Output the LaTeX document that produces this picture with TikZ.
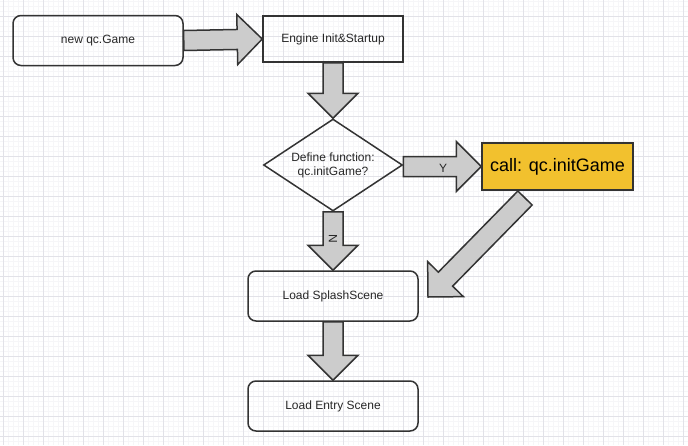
\documentclass[tikz,border=0pt]{standalone}
\usepackage{fontspec}
\setmainfont{Liberation Sans}
\usetikzlibrary{shapes.geometric}
\usetikzlibrary{calc}
\definecolor{lineclr}{RGB}{51,51,51}
\definecolor{arrowfill}{RGB}{204,204,204}
\definecolor{callfill}{RGB}{242,193,46}
\definecolor{gridclr}{RGB}{226,226,232}
\definecolor{minorclr}{RGB}{246,246,248}
\tikzset{
    gridline/.style={draw=gridclr, line width=0.8pt},
    minorline/.style={draw=minorclr, line width=0.6pt},
    stepbox/.style={draw=lineclr, line width=1.5pt, minimum width=170pt, minimum height=50pt,
        font=\fontsize{12}{14}\selectfont, text=black!85},
    roundbox/.style={stepbox, rounded corners=8pt},
    squarebox/.style={stepbox},
    decision/.style={diamond, draw=lineclr, line width=1.5pt, aspect=1.5, inner sep=0pt,
        minimum width=139pt, minimum height=92pt, align=center,
        font=\fontsize{12}{14}\selectfont, text=black!85},
    callbox/.style={draw=lineclr, line width=1.5pt, fill=callfill, minimum width=151pt,
        minimum height=47pt, font=\fontsize{18}{20}\selectfont},
    fatarrow/.style={draw=lineclr, fill=arrowfill, line width=1.5pt, line join=miter},
    arrowlabel/.style={font=\fontsize{12}{14}\selectfont, text=black!85},
}
% fat block arrow from #1 to #2
\newcommand{\fatarrow}[2]{%
    \coordinate (fa-h) at ($(#2)!25pt!(#1)$);
    \draw[fatarrow] ($(#1)!10pt!90:(#2)$) -- ($(fa-h)!10pt!-90:(#1)$)
        -- ($(fa-h)!25pt!-90:(#1)$) -- (#2) -- ($(fa-h)!25pt!90:(#1)$)
        -- ($(fa-h)!10pt!90:(#1)$) -- ($(#1)!10pt!-90:(#2)$) -- cycle;}

\begin{document}
\begin{tikzpicture}[x=1pt, y=-1pt]

\useasboundingbox (0,0) rectangle (688,445);

% grid
\foreach \x in {-2,3,...,688} \draw[minorline] (\x,0) -- (\x,445);
\foreach \y in {1,6,...,445} \draw[minorline] (0,\y) -- (688,\y);
\foreach \x in {3,23,...,688} \draw[gridline] (\x,0) -- (\x,445);
\foreach \y in {16,36,...,445} \draw[gridline] (0,\y) -- (688,\y);

% boxes
\node[roundbox] (game) at (98,40.5) {new qc.Game};
\node[squarebox, minimum width=140pt, minimum height=46pt] (engine) at (333,39) {Engine Init\&Startup};
\node[decision] (define) at (333,165) {Define function:\\qc.initGame?};
\node[callbox] (call) at (557.5,166.5) {call: qc.initGame};
\node[roundbox] (splash) at (333,296) {Load SplashScene};
\node[roundbox] (entry) at (333,406) {Load Entry Scene};

\coordinate (diagtail) at (525,198);
\coordinate (diagtip) at (428,297);
\coordinate (yfrom) at (define.east |- call.west);

% arrows
\fatarrow{game.east}{engine.west}
\fatarrow{engine.south}{define.north}
\fatarrow{yfrom}{call.west}
\fatarrow{define.south}{splash.north}
\fatarrow{diagtail}{diagtip}
\fatarrow{splash.south}{entry.north}

\node[arrowlabel] (ylabel) at (443,168) {Y};
\node[arrowlabel, rotate=-90] (nlabel) at (333,239) {N};

\end{tikzpicture}
\end{document}
